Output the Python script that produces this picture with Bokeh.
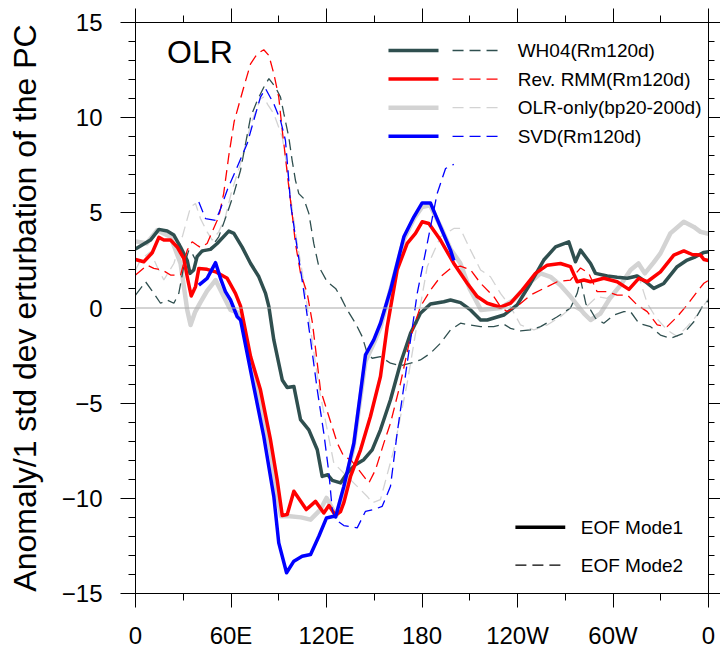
from bokeh.plotting import figure
from bokeh.models import LinearAxis, FixedTicker, Span, Label, Range1d
from bokeh.embed import file_html
from bokeh.resources import INLINE

# ---------------- data ----------------
XTICKS = [0, 60, 120, 180, 240, 300, 360]
XTICK_LABELS = ["0", "60E", "120E", "180", "120W", "60W", "0"]
XMINOR = [30, 90, 150, 210, 270, 330]
YTICKS = [-15, -10, -5, 0, 5, 10, 15]
YMINOR = [v for v in range(-15, 16) if v % 5 != 0]

WH04_M1_LON = [0, 9.4, 14.7, 19.9, 24.1, 28.3, 32.5, 34.2, 36.6, 38.7, 41.9, 47.1, 51.3,
               58.6, 61.8, 67.0, 72.3, 77.5, 81.7, 83.8, 86.9, 92.2, 95.3, 99.5, 103.7,
               108.9, 114.2, 117.3, 120.8, 123.6, 128.8, 133.0, 138.2, 143.4, 148.7,
               153.9, 160.2, 166.5, 172.8, 179.0, 185.3, 193.7, 197.9, 204.2, 210.5,
               216.8, 221.0, 231.4, 239.8, 248.2, 256.5, 263.9, 272.2, 276.4, 279.6,
               285.9, 289.0, 296.4, 302.6, 309.0, 315.2, 320.4, 325.6, 331.9, 340.3,
               346.6, 351.8, 357.1, 360]
WH04_M1 = [3.1, 3.57, 4.13, 4.05, 3.83, 3.2, 2.5, 1.82, 2.0, 2.7, 3.0, 3.08, 3.39,
           4.04, 3.92, 3.2, 2.34, 1.64, 0.77, 0.07, -1.68, -3.78, -4.18, -4.12, -5.87,
           -6.4, -7.45, -8.85, -8.76, -9.06, -9.19, -8.67, -8.23, -7.97, -7.45,
           -6.4, -4.82, -2.9, -1.33, -0.28, 0.21, 0.33, 0.42, 0.28, -0.1,
           -0.63, -0.63, -0.37, 0.16, 1.3, 2.52, 3.21, 3.48, 2.43, 3.04,
           2.34, 1.82, 1.68, 1.61, 1.56, 1.68, 1.38, 1.03, 1.29, 2.17,
           2.52, 2.69, 2.92, 2.95]

WH04_M2_LON = [0, 6.3, 11.5, 15.7, 19.9, 24.1, 27.2, 30.3, 33.5, 35.6, 37.7, 40.8, 47.1,
               52.3, 57.6, 61.8, 66.0, 72.3, 76.5, 80.6, 83.8, 87.9, 91.1, 93.2, 96.3,
               98.4, 100.5, 102.6, 105.7, 108.9, 112.0, 115.2, 120.4, 125.7, 128.8,
               133.0, 138.2, 142.4, 145.6, 148.7, 153.9, 160.2, 166.5, 172.8, 179.0,
               185.3, 191.6, 197.9, 204.2, 210.5, 216.8, 225.1, 231.4, 235.6, 241.9,
               248.2, 254.5, 265.0, 273.3, 277.5, 279.6, 283.0, 285.9, 289.0, 294.2,
               300.5, 306.8, 311.0, 316.2, 323.6, 329.8, 336.1, 344.5, 350.8, 356.1, 360]
WH04_M2 = [0.68, 1.38, 0.77, 0.25, 0.42, 0.25, 0.77, 2.17, 3.04, 2.87, 2.52, 2.9, 3.13,
           3.74, 4.97, 6.01, 7.24, 10.03, 10.9, 11.6, 12.05, 11.6, 11.08, 10.21, 8.98,
           7.76, 6.71, 6.01, 5.75, 4.97, 3.39, 2.17, 1.38, 1.03, 0.6,
           -0.1, -0.8, -1.5, -2.38, -2.64, -2.55, -2.9, -3.04, -2.9, -2.73,
           -2.38, -1.85, -1.15, -0.8, -0.9, -0.98, -0.98, -0.85, -1.07, -1.2,
           -1.15, -0.98, -0.46, 0.0, 0.77, 1.5, 0.2, -0.1, -0.54, -0.8,
           -0.37, -0.19, -0.19, -0.8, -0.98, -1.42, -1.59, -1.33, -0.72, 0.07, 0.4]

RMM_M1_LON = [0, 5.2, 10.5, 14.7, 17.8, 22.0, 26.2, 30.3, 32.9, 35.0, 37.7, 39.8, 45.0,
              50.3, 57.6, 62.8, 66.0, 72.3, 78.5, 84.8, 89.0, 92.2, 95.3, 99.5, 107.3,
              113.1, 118.3, 121.5, 125.7, 128.8, 131.0, 135.1, 141.4, 147.6, 153.9,
              158.1, 164.4, 170.7, 175.9, 180.1, 184.3, 191.6, 200.0, 208.4, 214.7,
              221.0, 229.3, 235.6, 243.0, 251.3, 258.7, 267.0, 273.3, 277.5, 281.7,
              285.9, 294.2, 302.6, 310.0, 316.2, 321.5, 329.8, 338.2, 344.5, 349.8,
              355.0, 357.1, 360]
RMM_M1 = [2.55, 2.43, 2.9, 3.71, 3.57, 3.57, 3.21, 2.6, 1.47, 0.63, 1.12, 2.08, 2.03,
          1.9, 1.56, 0.77, 0.1, -2.55, -4.3, -6.92, -9.02, -10.9, -10.85, -9.63, -10.59,
          -10.16, -10.77, -10.38, -10.9, -10.7, -10.2, -8.85, -7.45, -5.7, -3.6,
          -1.0, 2.0, 3.39, 3.92, 4.53, 4.44, 3.57, 2.34, 1.3, 0.6,
          0.25, 0.04, 0.25, 0.94, 1.82, 2.25, 2.34, 2.17, 1.38, 1.47,
          1.38, 1.56, 1.38, 0.98, 1.56, 1.38, 1.9, 2.78, 3.0, 2.81,
          2.78, 2.55, 2.5]

RMM_M2_LON = [0, 7.3, 11.5, 16.8, 22.0, 28.3, 32.5, 35.6, 38.7, 40.8, 45.0, 48.2, 52.3,
              55.4, 58.6, 62.0, 68.0, 72.3, 76.5, 80.6, 83.8, 86.9, 90.0, 92.2, 94.2,
              96.3, 98.4, 100.5, 103.7, 107.9, 111.2, 116.2, 121.5, 126.8, 130.9,
              135.1, 140.3, 146.6, 150.8, 156.0, 160.2, 166.5, 172.8, 179.0, 185.3,
              191.6, 197.9, 204.2, 210.5, 216.8, 225.1, 229.3, 233.5, 240.8, 248.2,
              256.5, 265.0, 273.3, 277.5, 279.6, 284.8, 290.0, 296.4, 302.6, 309.0,
              315.2, 321.5, 327.8, 334.0, 340.3, 346.6, 352.9, 357.1, 360]
RMM_M2 = [1.73, 2.25, 2.08, 2.0, 1.73, 1.73, 3.04, 3.48, 3.3, 3.18, 3.39, 4.0, 4.79,
          6.01, 8.0, 9.8, 11.6, 12.83, 13.36, 13.57, 13.27, 12.31, 11.08, 9.33, 7.93,
          6.36, 4.97, 3.39, 1.82, 0.77, -0.8, -4.3, -5.7, -7.1, -7.8,
          -7.97, -8.5, -9.19, -8.5, -7.1, -6.05, -3.95, -1.5, 0.07, 0.94,
          1.64, 2.08, 2.2, 2.0, 1.3, 0.6, 0.07, -0.19, 0.16, 0.68,
          1.03, 1.38, 1.47, 1.9, 2.1, 1.82, 0.86, 0.86, 0.68, 0.68,
          0.16, -0.19, -0.89, -0.98, -0.46, 0.16, 0.86, 1.3, 1.45]

OLR_M1_LON = [0, 7.0, 13.6, 18.0, 22.0, 28.3, 32.5, 34.6, 37.5, 40.8, 45.0, 50.3, 53.4,
              59.7, 66.0, 72.3, 78.5, 84.8, 89.0, 91.5, 97.0, 104.0, 110.0, 116.2,
              120.0, 124.0, 126.0, 131.0, 137.0, 144.5, 150.0, 154.0, 160.0, 168.6,
              175.0, 180.0, 185.0, 191.6, 197.9, 204.0, 210.0, 217.0, 229.3, 237.6,
              246.0, 254.5, 260.7, 267.0, 273.3, 281.7, 285.9, 292.0, 298.0, 304.7,
              311.0, 316.0, 320.0, 325.6, 329.8, 336.0, 344.5, 350.8, 355.0, 360]
OLR_M1 = [3.5, 3.4, 4.09, 3.9, 3.74, 2.34, -0.1, -0.89, -0.2, 0.3, 0.9, 1.47, 0.94,
          -0.1, -0.3, -2.9, -4.9, -7.5, -9.8, -10.94, -10.94, -11.0, -11.12, -10.59,
          -9.98, -10.59, -10.94, -9.5, -7.3, -2.8, -1.8, -1.0, 0.9, 3.6,
          4.7, 5.3, 5.4, 4.3, 3.1, 2.36, 1.0, -0.1, 0.0, 0.42,
          1.2, 1.82, 1.64, 1.2, 0.6, -0.28, -0.63, -0.3, 0.5, 1.2,
          2.0, 2.34, 1.82, 2.4, 2.87, 3.92, 4.53, 4.26, 4.0, 3.9]

OLR_M2_LON = [0, 3.1, 9.4, 13.6, 17.8, 24.1, 29.4, 34.6, 37.7, 40.8, 45.0, 48.2, 52.3,
              56.5, 60.0, 66.0, 72.3, 78.5, 80.6, 83.0, 86.9, 92.2, 95.0, 98.0, 101.0,
              104.5, 107.0, 111.0, 115.5, 120.0, 124.6, 133.0, 139.3, 145.6, 148.7,
              153.9, 162.3, 170.7, 177.0, 183.3, 191.6, 200.0, 204.0, 210.5, 216.8,
              223.0, 229.3, 235.6, 241.9, 250.3, 258.7, 267.0, 274.4, 280.0, 290.0,
              296.4, 304.7, 311.0, 316.2, 321.5, 327.0, 334.0, 340.3, 346.6, 352.9,
              358.0, 360]
OLR_M2 = [2.0, 2.52, 2.95, 2.17, 1.47, 2.34, 3.74, 5.31, 5.49, 4.7, 4.0, 3.57, 4.0,
          4.79, 6.0, 7.6, 9.6, 11.0, 11.08, 10.7, 10.21, 8.98, 7.5, 5.5, 3.7,
          2.0, 0.6, -1.7, -4.3, -6.2, -8.15, -8.85, -9.37, -9.9, -10.24,
          -10.07, -7.45, -3.95, -0.8, 2.17, 3.74, 4.18, 4.18, 3.04, 2.0,
          1.64, 0.77, 0.07, -0.89, -1.15, -0.89, -0.46, 0.07, -0.2, 0.6,
          0.51, 1.2, 2.0, 1.64, 0.25, -0.5, -1.15, -1.5, -0.98, -0.37,
          0.25, 0.5]

SVD_M1_LON = [39.8, 45.0, 50.3, 53.4, 56.5, 59.7, 63.9, 66.0, 74.3, 80.6, 86.9, 90.0,
              94.9, 99.5, 104.7, 110.0, 115.2, 120.0, 124.6, 125.7, 130.9, 137.2,
              144.5, 149.7, 153.9, 160.2, 168.6, 174.9, 180.1, 185.3, 191.6, 197.9, 200.0]
SVD_M1 = [1.2, 1.56, 2.38, 1.56, 0.86, 0.42, -0.46, -0.63, -4.13, -6.75, -9.9, -12.34,
          -13.91, -13.3, -13.04, -12.95, -11.99, -11.03, -10.94, -10.98, -9.37, -7.1,
          -2.46, -1.68, -0.8, 0.94, 3.74, 4.79, 5.52, 5.52, 4.26, 3.04, 2.5]

SVD_M2_LON = [39.8, 44.0, 50.3, 53.4, 57.6, 63.9, 70.2, 74.3, 78.5, 81.7, 86.9, 91.1,
              94.2, 95.8, 97.4, 100.5, 103.7, 106.2, 110.0, 114.2, 118.3, 121.5, 123.6,
              125.7, 130.9, 139.3, 144.5, 149.7, 155.0, 160.2, 164.4, 170.7, 177.0,
              183.3, 189.5, 194.8, 200.0]
SVD_M2 = [5.57, 4.7, 4.6, 5.2, 6.19, 7.41, 8.64, 9.86, 11.08, 11.52, 10.73, 9.86,
          8.81, 7.24, 5.49, 3.74, 2.0, 0.6, -1.68, -4.3, -6.57, -8.67, -10.59,
          -11.12, -11.43, -11.55, -10.68, -10.59, -10.42, -9.37, -6.57, -2.9, 0.77,
          3.39, 6.01, 7.33, 7.55]

SERIES_NAMES = ["WH04(Rm120d)", "Rev. RMM(Rm120d)", "OLR-only(bp20-200d)", "SVD(Rm120d)"]
MODE_NAMES = ["EOF Mode1", "EOF Mode2"]

# ---------------- styling ----------------
FONT = "Liberation Sans"
C_WH = "#2F4F4F"
C_RMM = "#FF0000"
C_OLR = "#D3D3D3"
C_SVD = "#0000FF"
DASH = "11 6"

X0, X1 = 0, 360
Y0, Y1 = -15, 15

p = figure(width=720, height=651, x_range=Range1d(X0, X1), y_range=Range1d(Y0, Y1),
           output_backend="svg", toolbar_location=None,
           x_axis_type=None, y_axis_type=None,
           min_border_left=135, min_border_right=12, min_border_top=22, min_border_bottom=57)
p.grid.visible = False
p.outline_line_color = "black"
p.outline_line_width = 1
p.background_fill_color = "white"
p.border_fill_color = "white"

xt = FixedTicker(ticks=XTICKS, minor_ticks=XMINOR)
yt = FixedTicker(ticks=YTICKS, minor_ticks=YMINOR)

common = dict(major_tick_in=0, minor_tick_in=0, axis_line_color="black",
              major_tick_line_color="black", minor_tick_line_color="black")


def tick_axis(ticker, ticks, out_major, out_minor):
    # ticks only, the labels are empty strings
    return LinearAxis(ticker=ticker, major_label_overrides={t: "" for t in ticks},
                      major_label_standoff=0, major_label_text_font_size="1px",
                      major_tick_out=out_major, minor_tick_out=out_minor, **common)


left = LinearAxis(ticker=yt, major_tick_out=15, minor_tick_out=7, major_label_standoff=18,
                  major_label_text_font=FONT, major_label_text_font_size="24px",
                  major_label_text_color="black",
                  axis_label="Anomaly/1 std dev erturbation of the PC",
                  axis_label_text_font=FONT, axis_label_text_font_size="32px",
                  axis_label_text_font_style="normal", axis_label_text_color="black",
                  axis_label_standoff=16, **common)
bottom = LinearAxis(ticker=xt, major_tick_out=14, minor_tick_out=7, major_label_standoff=14,
                    major_label_overrides=dict(zip(XTICKS, XTICK_LABELS)),
                    major_label_text_font=FONT, major_label_text_font_size="24px",
                    major_label_text_color="black", **common)
p.add_layout(left, "left")
p.add_layout(bottom, "below")
p.add_layout(tick_axis(yt, YTICKS, 12, 6), "right")
p.add_layout(tick_axis(xt, XTICKS, 14, 7), "above")

# zero line
p.add_layout(Span(location=0, dimension="width", line_color="#a8a8a8", line_width=1))

# data lines
specs = [
    (OLR_M1_LON, OLR_M1, OLR_M2_LON, OLR_M2, C_OLR, 4.5),
    (WH04_M1_LON, WH04_M1, WH04_M2_LON, WH04_M2, C_WH, 3.5),
    (RMM_M1_LON, RMM_M1, RMM_M2_LON, RMM_M2, C_RMM, 3.5),
    (SVD_M1_LON, SVD_M1, SVD_M2_LON, SVD_M2, C_SVD, 3.5),
]
for x1, y1, x2, y2, c, w in specs:
    p.line(x1, y1, line_color=c, line_width=w, line_join="round")
    p.line(x2, y2, line_color=c, line_width=1.3, line_dash=DASH)


# ---------------- legends (positions as fractions of the frame) ----------------
def fx(f):
    return X0 + f * (X1 - X0)


def fy(f):
    return Y0 + f * (Y1 - Y0)


leg_colors = [C_WH, C_RMM, C_OLR, C_SVD]
leg_widths = [3.5, 3.5, 4.5, 3.5]
for i, (name, c, w) in enumerate(zip(SERIES_NAMES, leg_colors, leg_widths)):
    yy = fy(0.951 - i * 0.0501)
    p.line([fx(0.4415), fx(0.5288)], [yy, yy], line_color=c, line_width=w)
    p.line([fx(0.5533), fx(0.6370)], [yy, yy], line_color=c, line_width=1.3, line_dash=DASH)
    p.add_layout(Label(x=fx(0.667), y=yy, text=name, text_font=FONT,
                       text_font_size="19px", text_baseline="middle", text_color="black"))

for i, name in enumerate(MODE_NAMES):
    yy = fy(0.116 - i * 0.0664)
    p.line([fx(0.663), fx(0.750)], [yy, yy], line_color="black",
           line_width=3.5 if i == 0 else 1.3, line_dash="solid" if i == 0 else DASH)
    p.add_layout(Label(x=fx(0.777), y=yy, text=name, text_font=FONT,
                       text_font_size="19px", text_baseline="middle", text_color="black"))

p.add_layout(Label(x=fx(0.055), y=fy(0.9477), text="OLR", text_font=FONT,
                   text_font_size="32px", text_baseline="middle", text_color="black"))

open("out.html", "w").write(file_html(p, INLINE))
